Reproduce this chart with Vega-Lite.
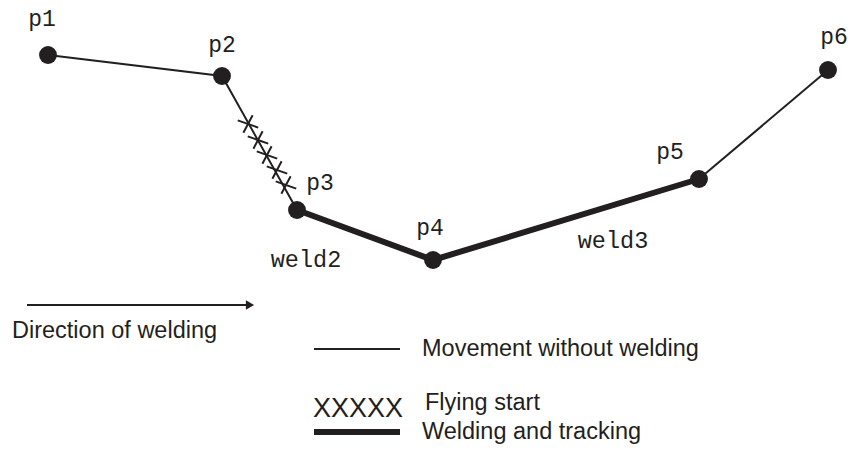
{
  "$schema": "https://vega.github.io/schema/vega-lite/v6.json",
  "width": 851,
  "height": 474,
  "autosize": "none",
  "padding": 0,
  "background": "white",
  "config": {"view": {"stroke": null}},
  "datasets": {
    "pts": [
      {"name": "p1", "x": 48, "y": 55, "lx": 42, "ly": 19},
      {"name": "p2", "x": 222, "y": 76, "lx": 222, "ly": 45},
      {"name": "p3", "x": 297, "y": 210, "lx": 320, "ly": 183},
      {"name": "p4", "x": 433, "y": 260, "lx": 430, "ly": 228},
      {"name": "p5", "x": 699, "y": 179, "lx": 670, "ly": 152},
      {"name": "p6", "x": 828, "y": 70, "lx": 834, "ly": 37}
    ],
    "paths": [
      {"seg": "a", "kind": "thin", "ord": 1, "x": 48, "y": 55},
      {"seg": "a", "kind": "thin", "ord": 2, "x": 222, "y": 76},
      {"seg": "a", "kind": "thin", "ord": 3, "x": 297, "y": 210},
      {"seg": "b", "kind": "thick", "ord": 1, "x": 297, "y": 210},
      {"seg": "b", "kind": "thick", "ord": 2, "x": 433, "y": 260},
      {"seg": "b", "kind": "thick", "ord": 3, "x": 699, "y": 179},
      {"seg": "c", "kind": "thin", "ord": 1, "x": 699, "y": 179},
      {"seg": "c", "kind": "thin", "ord": 2, "x": 828, "y": 70}
    ],
    "crosses": [
      {"x": 248, "y": 124},
      {"x": 258, "y": 140},
      {"x": 267, "y": 155},
      {"x": 277, "y": 170},
      {"x": 286, "y": 185}
    ],
    "texts": [
      {"t": "weld2", "x": 306, "y": 260, "font": "mono"},
      {"t": "weld3", "x": 613, "y": 241, "font": "mono"},
      {"t": "Direction of welding", "x": 12, "y": 331, "font": "sans"},
      {"t": "Movement without welding", "x": 422, "y": 349, "font": "sans"},
      {"t": "Flying start", "x": 425, "y": 403, "font": "sans"},
      {"t": "Welding and tracking", "x": 422, "y": 432, "font": "sans"}
    ],
    "rules": [
      {"x": 27, "x2": 250, "y": 305, "w": 1.8},
      {"x": 314, "x2": 400, "y": 349, "w": 2},
      {"x": 314, "x2": 400, "y": 432, "w": 6}
    ]
  },
  "layer": [
    {
      "data": {"name": "paths"},
      "transform": [{"filter": "datum.kind == 'thin'"}],
      "mark": {"type": "line", "color": "#231f20", "strokeWidth": 2},
      "encoding": {
        "x": {"field": "x", "type": "quantitative", "scale": {"domain": [0, 851], "nice": false, "zero": false}, "axis": null},
        "y": {"field": "y", "type": "quantitative", "scale": {"domain": [0, 474], "nice": false, "zero": false, "reverse": true}, "axis": null},
        "detail": {"field": "seg"},
        "order": {"field": "ord"}
      }
    },
    {
      "data": {"name": "paths"},
      "transform": [{"filter": "datum.kind == 'thick'"}],
      "mark": {"type": "line", "color": "#231f20", "strokeWidth": 6},
      "encoding": {
        "x": {"field": "x", "type": "quantitative"},
        "y": {"field": "y", "type": "quantitative"},
        "detail": {"field": "seg"},
        "order": {"field": "ord"}
      }
    },
    {
      "data": {"name": "crosses"},
      "mark": {"type": "point", "shape": "M-1,-0.35L1,0.35M-0.45,0.85L0.45,-0.85", "filled": false, "stroke": "#231f20", "strokeWidth": 2, "size": 420, "opacity": 1},
      "encoding": {
        "x": {"field": "x", "type": "quantitative"},
        "y": {"field": "y", "type": "quantitative"}
      }
    },
    {
      "data": {"name": "pts"},
      "mark": {"type": "point", "filled": true, "color": "#231f20", "size": 320, "opacity": 1},
      "encoding": {
        "x": {"field": "x", "type": "quantitative"},
        "y": {"field": "y", "type": "quantitative"}
      }
    },
    {
      "data": {"name": "pts"},
      "mark": {"type": "text", "font": "Liberation Mono", "fontSize": 23, "color": "#231f20", "align": "center", "baseline": "middle"},
      "encoding": {
        "x": {"field": "lx", "type": "quantitative"},
        "y": {"field": "ly", "type": "quantitative"},
        "text": {"field": "name"}
      }
    },
    {
      "data": {"name": "texts"},
      "transform": [{"filter": "datum.font == 'mono'"}],
      "mark": {"type": "text", "font": "Liberation Mono", "fontSize": 23.5, "color": "#231f20", "align": "center", "baseline": "middle"},
      "encoding": {
        "x": {"field": "x", "type": "quantitative"},
        "y": {"field": "y", "type": "quantitative"},
        "text": {"field": "t"}
      }
    },
    {
      "data": {"name": "texts"},
      "transform": [{"filter": "datum.font == 'sans'"}],
      "mark": {"type": "text", "font": "Liberation Sans", "fontSize": 23.5, "color": "#231f20", "align": "left", "baseline": "middle"},
      "encoding": {
        "x": {"field": "x", "type": "quantitative"},
        "y": {"field": "y", "type": "quantitative"},
        "text": {"field": "t"}
      }
    },
    {
      "data": {"values": [{"t": "XXXXX", "x": 313, "y": 409}]},
      "mark": {"type": "text", "font": "Liberation Sans", "fontSize": 27, "color": "#231f20", "align": "left", "baseline": "middle"},
      "encoding": {
        "x": {"field": "x", "type": "quantitative"},
        "y": {"field": "y", "type": "quantitative"},
        "text": {"field": "t"}
      }
    },
    {
      "data": {"name": "rules"},
      "mark": {"type": "rule", "color": "#231f20"},
      "encoding": {
        "x": {"field": "x", "type": "quantitative"},
        "x2": {"field": "x2"},
        "y": {"field": "y", "type": "quantitative"},
        "strokeWidth": {"field": "w", "type": "quantitative", "scale": null}
      }
    },
    {
      "data": {"values": [{"x": 250, "y": 305}]},
      "mark": {"type": "point", "shape": "triangle-right", "filled": true, "color": "#231f20", "size": 90, "opacity": 1},
      "encoding": {
        "x": {"field": "x", "type": "quantitative"},
        "y": {"field": "y", "type": "quantitative"}
      }
    }
  ]
}
